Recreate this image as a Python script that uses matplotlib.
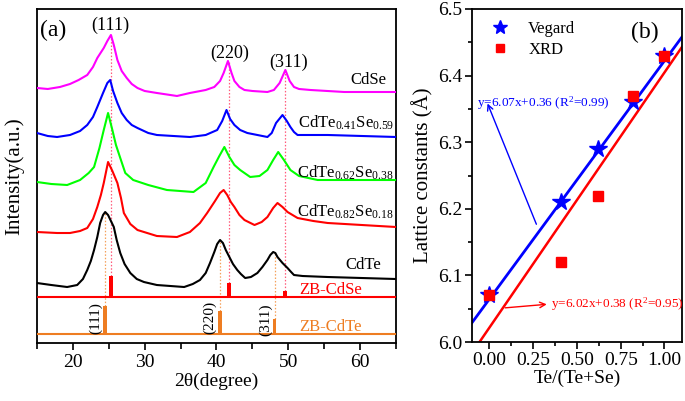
import matplotlib
matplotlib.use("Agg")
import matplotlib.pyplot as plt
from matplotlib.ticker import MultipleLocator, FormatStrFormatter

plt.rcParams['font.family'] = ['Liberation Serif', 'DejaVu Serif']
plt.rcParams['mathtext.fontset'] = 'custom'
plt.rcParams['mathtext.rm'] = 'Liberation Serif'
plt.rcParams['mathtext.it'] = 'Liberation Serif:italic'

# ---------------- data: panel (a) XRD patterns (2theta, stacked intensity a.u.) ----------------
cdse_x = [15, 16.5, 18.2, 19.6, 20.8, 22.0, 22.8, 23.4, 24.3, 24.8, 25.3, 25.7, 26.2, 26.8, 27.5,
          28.2, 29.0, 30.0, 31.7, 34.5, 36.3, 38.5, 39.7, 40.5, 41.0, 41.6, 42.1, 42.5, 43.2,
          43.9, 45.0, 47.1, 48.0, 48.8, 49.6, 50.2, 50.8, 51.5, 53.1, 57.8, 65]
cdse_y = [255, 254, 256, 259, 263, 268, 276, 285, 295, 302, 308, 298, 283, 272, 265,
          259, 255, 252, 250, 247, 250, 253, 256, 262, 270, 282, 270, 262, 256,
          253, 252, 251, 253, 260, 273, 262, 256, 254, 253, 251, 251]

s041_x = [15, 16.5, 17.8, 19.6, 21.0, 22.0, 22.8, 23.4, 24.2, 24.8, 25.2, 25.6, 26.2, 26.8, 27.5,
          28.2, 29.0, 30.5, 31.7, 36.3, 38.5, 40.1, 40.8, 41.4, 41.9, 42.5, 43.3, 44.3, 47.1,
          47.7, 48.3, 49.2, 49.8, 50.3, 50.8, 51.3, 55.5, 65]
s041_y = [210, 207, 206, 208, 212, 218, 226, 236, 250, 260, 263, 252, 240, 230, 223,
          218, 215, 210, 208, 206, 208, 213, 222, 233, 224, 218, 213, 210, 206,
          210, 220, 228, 222, 216, 211, 208, 208, 206]

s062_x = [15, 17.0, 19.2, 21.0, 22.2, 22.95, 23.7, 24.3, 24.9, 25.5, 26.0, 26.6, 27.3, 28.4, 30.5,
          33.1, 36.8, 38.5, 39.6, 40.4, 41.1, 41.8, 42.5, 43.3, 44.7, 46.0, 47.1, 47.9, 48.6,
          49.4, 50.3, 51.5, 54.1, 65]
s062_y = [161, 159, 158, 163, 170, 176, 195, 213, 230, 213, 198, 185, 170, 163, 158,
          153, 151, 160, 176, 187, 196, 186, 178, 173, 166, 167, 173, 183, 191,
          183, 173, 167, 163, 163]

s082_x = [15, 17.8, 19.6, 21.0, 22.0, 22.8, 23.4, 23.9, 24.3, 24.9, 25.5, 26.2, 26.7, 27.1, 28.0,
          29.0, 31.7, 34.5, 36.3, 37.7, 38.7, 39.8, 40.5, 41.0, 41.5, 42.0, 42.5, 43.2, 43.9,
          45.3, 46.3, 47.1, 47.9, 48.5, 49.2, 49.9, 51.3, 53.5, 55.5, 65]
s082_y = [111, 110, 110, 112, 115, 124, 136, 148, 160, 181, 172, 160, 145, 130, 119,
          113, 107, 106, 111, 120, 130, 142, 150, 153, 148, 141, 136, 128, 123,
          118, 121, 126, 135, 140, 136, 131, 125, 122, 120, 116]

cdte_x = [15, 17.0, 19.2, 20.6, 21.4, 22.0, 22.5, 22.95, 23.4, 23.8, 24.2, 24.5, 24.9, 25.3, 25.7,
          26.1, 26.6, 27.2, 28.0, 28.9, 29.9, 31.7, 35.5, 36.7, 37.7, 38.5, 39.1, 39.7, 40.1,
          40.5, 40.9, 41.3, 41.8, 42.3, 42.9, 43.4, 44.0, 44.8, 45.7, 46.4, 47.1, 47.5, 47.9,
          48.2, 48.5, 49.2, 49.9, 50.4, 50.8, 52.0, 55.5, 65]
cdte_y = [60, 58, 56, 58, 64, 73, 82, 93, 106, 120, 128, 131, 128, 122, 116,
          103, 90, 79, 70, 64, 61, 58, 56, 59, 63, 70, 80, 91, 99,
          103, 100, 93, 86, 79, 73, 69, 65, 66, 70, 76, 83, 88, 91,
          90, 86, 80, 75, 71, 68, 67, 66, 64]

series_names = ['CdSe', 'CdTe$_{0.41}$Se$_{0.59}$', 'CdTe$_{0.62}$Se$_{0.38}$',
                'CdTe$_{0.82}$Se$_{0.18}$', 'CdTe']

# reference patterns (zinc blende)
zb_cdse_pos = [25.3, 41.8, 49.6]
zb_cdse_height = [21, 14, 6]
zb_cdse_base = 46
zb_cdte_pos = [24.5, 40.5, 48.1]
zb_cdte_height = [28, 23, 15]
zb_cdte_base = 9
hkl = ['(111)', '(220)', '(311)']
cdse_peak_y = [308, 282, 273]
cdte_peak_y = [131, 103, 91]

# ---------------- data: panel (b) lattice constants ----------------
te_frac = [0.0, 0.41, 0.62, 0.82, 1.0]
vegard = [6.07, 6.21, 6.29, 6.36, 6.43]
xrd = [6.07, 6.12, 6.22, 6.37, 6.43]
vegard_fit_x = [-0.1, 1.1]
vegard_fit_y = [6.029, 6.458]
xrd_fit_x = [-0.057, 1.1]
xrd_fit_y = [6.0, 6.443]

# ---------------- figure ----------------
fig = plt.figure(figsize=(6.85, 4.01), dpi=100)
axa = fig.add_axes([0.054, 0.1446, 0.524, 0.833])
axb = fig.add_axes([0.689, 0.147, 0.3066, 0.8306])

ORANGE = '#EE7D22'
PINK = '#FF5A7A'

# panel (a)
colors = ['#FF00FF', '#0000FF', '#00FF00', '#FF0000', '#000000']
for (xs, ys), c in zip([(cdse_x, cdse_y), (s041_x, s041_y), (s062_x, s062_y),
                        (s082_x, s082_y), (cdte_x, cdte_y)], colors):
    axa.plot(xs, ys, color=c, lw=1.5, zorder=3, solid_joinstyle='round')

# reference guide lines
for p, h, top in zip(zb_cdse_pos, zb_cdse_height, cdse_peak_y):
    axa.plot([p, p], [zb_cdse_base + h, top], color=PINK, lw=0.9, ls=(0, (1.2, 1.5)), zorder=2)
for p, h, top in zip(zb_cdte_pos, zb_cdte_height, cdte_peak_y):
    axa.plot([p, p], [zb_cdte_base + h, top], color='#F5A05A', lw=0.9, ls=(0, (1.2, 1.5)), zorder=2)

axa.axhline(zb_cdse_base, color='#FF0000', lw=1.5, zorder=3)
axa.axhline(zb_cdte_base, color=ORANGE, lw=1.5, zorder=3)
axa.bar(zb_cdse_pos, zb_cdse_height, bottom=zb_cdse_base, width=0.55, color='#FF0000', zorder=4)
axa.bar(zb_cdte_pos, zb_cdte_height, bottom=zb_cdte_base, width=0.5, color=ORANGE, zorder=4)

axa.text(55.9, 53, 'ZB-CdSe', color='#FF0000', fontsize=12, ha='center', va='center')
axa.text(55.9, 16, 'ZB-CdTe', color=ORANGE, fontsize=12, ha='center', va='center')

for lab, x, y in zip(hkl, [23.1, 39.0, 46.8], [25, 26, 23]):
    axa.text(x, y, lab, rotation=90, fontsize=11, ha='center', va='center')
for lab, x, y in zip(hkl, [25.2, 41.9, 50.0], [318, 290, 281]):
    axa.text(x, y, lab, fontsize=13, ha='center', va='center')

label_pos = [(63.6, 263), (64.7, 220), (64.7, 170), (64.7, 131), (62.9, 78)]
for name, (x, y) in zip(series_names, label_pos):
    axa.text(x, y, name, fontsize=12, ha='right', va='center')

axa.text(17.2, 313, '(a)', fontsize=17, ha='center', va='center')

axa.set_xlim(15, 65)
axa.set_ylim(0, 334)
axa.set_yticks([])
axa.xaxis.set_major_locator(MultipleLocator(10))
axa.xaxis.set_minor_locator(MultipleLocator(5))
axa.tick_params(axis='x', which='major', direction='out', length=5, width=1.2, labelsize=14, pad=3)
axa.tick_params(axis='x', which='minor', direction='out', length=4, width=1.2)
axa.set_xlabel('2θ(degree)', fontsize=14, labelpad=1)
axa.set_ylabel('Intensity(a.u.)', fontsize=15, labelpad=9)
for s in axa.spines.values():
    s.set_linewidth(1.3)

# panel (b)
axb.plot(vegard_fit_x, vegard_fit_y, color='#0000FF', lw=2.0, zorder=2)
axb.plot(xrd_fit_x, xrd_fit_y, color='#FF0000', lw=1.8, zorder=2)
axb.plot(te_frac, vegard, ls='none', marker='*', ms=13, color='#0000FF', label='Vegard', zorder=3)
axb.plot(te_frac, xrd, ls='none', marker='s', ms=6.5, color='#FF0000', label='XRD', zorder=4)

axb.annotate('', xy=(-0.017, 6.362), xytext=(0.274, 6.173),
             arrowprops=dict(arrowstyle='->', color='#0000FF', lw=1.0))
axb.text(-0.069, 6.359, 'y=6.07x+0.36 (R$^2$=0.99)', color='#0000FF', fontsize=9.5,
         ha='left', va='center')
axb.annotate('', xy=(0.343, 6.057), xytext=(0.074, 6.051),
             arrowprops=dict(arrowstyle='->', color='#FF0000', lw=1.0))
axb.text(0.352, 6.057, 'y=6.02x+0.38 (R$^2$=0.95)', color='#FF0000', fontsize=9.5,
         ha='left', va='center')

axb.text(0.89, 6.465, '(b)', fontsize=17, ha='center', va='center')

leg = axb.legend(loc='upper left', bbox_to_anchor=(0.03, 1.0), frameon=False, fontsize=12,
                 handletextpad=1.1, borderaxespad=0.3, labelspacing=0.3, handlelength=1.2)
leg.legend_handles[0].set_markersize(10)
leg.legend_handles[1].set_markersize(6)

axb.set_xlim(-0.1, 1.1)
axb.set_ylim(6.0, 6.5)
axb.xaxis.set_major_locator(MultipleLocator(0.25))
axb.xaxis.set_minor_locator(MultipleLocator(0.125))
axb.yaxis.set_major_locator(MultipleLocator(0.1))
axb.yaxis.set_minor_locator(MultipleLocator(0.05))
axb.xaxis.set_major_formatter(FormatStrFormatter('%.2f'))
axb.yaxis.set_major_formatter(FormatStrFormatter('%.1f'))
axb.tick_params(which='major', direction='out', length=5, width=1.2, labelsize=14, pad=2)
axb.tick_params(which='minor', direction='out', length=3, width=1.2)
axb.set_xlabel('Te/(Te+Se)', fontsize=14, labelpad=1)
axb.set_ylabel('Lattice constants (Å)', fontsize=15, labelpad=3)
for s in axb.spines.values():
    s.set_linewidth(1.3)

fig.savefig('out.png', dpi=100)
